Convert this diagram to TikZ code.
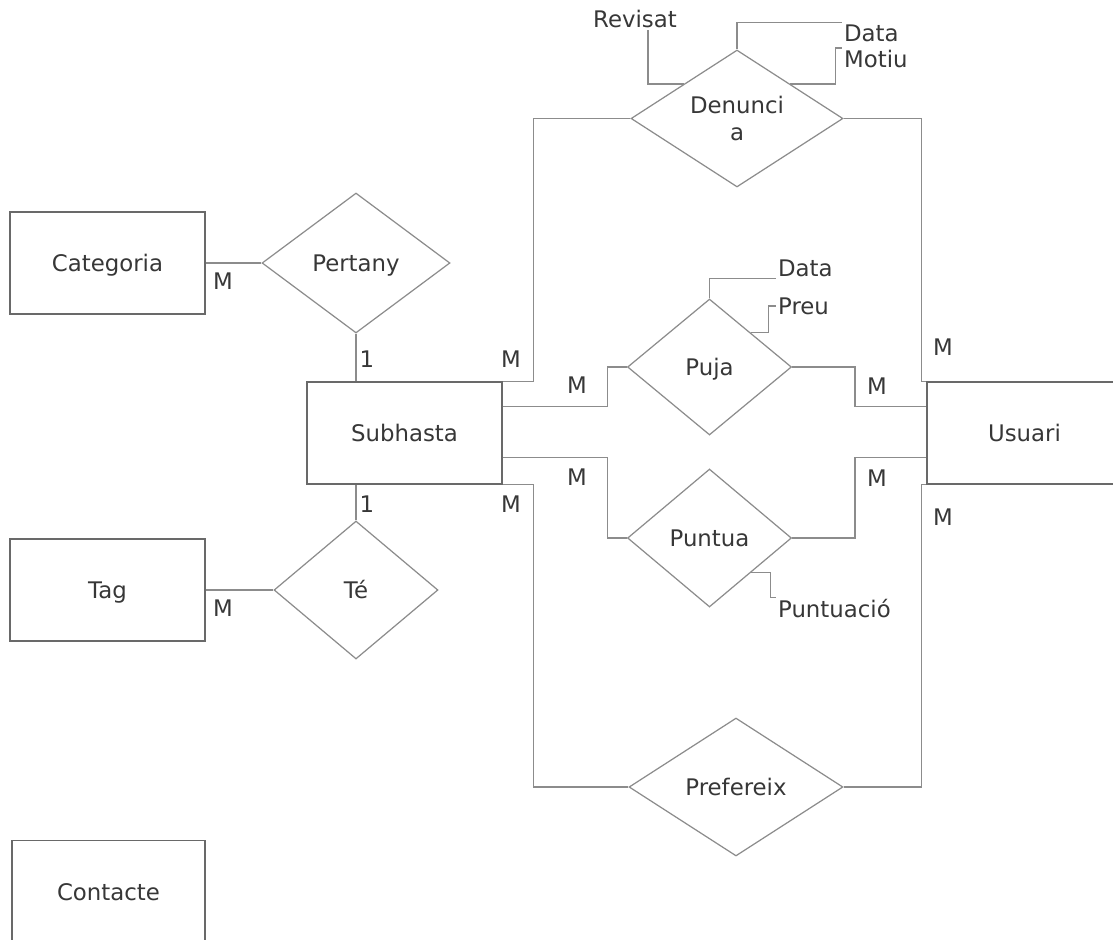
\documentclass[tikz,border=0pt]{standalone}
\usepackage{fontspec}
\setmainfont{DejaVu Sans}
\usetikzlibrary{shapes.geometric}
\definecolor{linegray}{RGB}{140,140,140}
\definecolor{boxgray}{RGB}{105,105,105}
\definecolor{textgray}{RGB}{55,55,55}

\begin{document}
\begin{tikzpicture}[x=0.02cm,y=-0.02cm,font=\fontsize{13}{15.5}\selectfont,text=textgray,
  entity/.style={draw=boxgray,line width=0.7pt,shape=rectangle,minimum width=3.9cm,minimum height=2.04cm,inner sep=0pt,text height=1.15em,text depth=0.17em},
  relation/.style={draw=linegray,line width=0.7pt,shape=diamond,aspect=1.5,inner sep=0pt,text height=1.1em,text depth=0.17em},
  attr/.style={inner sep=1pt},
  card/.style={inner sep=0pt},
  conn/.style={draw=linegray,line width=0.7pt}]

\useasboundingbox (0,0) rectangle (1113,940);

% entities
\node[entity] (categoria) at (107.5,263) {Categoria};
\node[entity] (subhasta) at (404.5,433) {Subhasta};
\node[entity] (tag) at (107.5,590) {Tag};
\node[entity,minimum width=3.86cm] (contacte) at (108.5,891.5) {Contacte};
\node[entity] (usuari) at (1024.5,433) {Usuari};

% relations
\node[relation,minimum width=3.76cm,minimum height=2.8cm] (pertany) at (356,263) {Pertany};
\node[relation,minimum width=3.28cm,minimum height=2.76cm] (te) at (356,590) {Té};
\node[relation,minimum width=4.24cm,minimum height=2.74cm,align=center,text height=,text depth=] (denuncia) at (737,118.5) {Denunci\\a};
\node[relation,minimum width=3.28cm,minimum height=2.72cm] (puja) at (709.5,367) {Puja};
\node[relation,minimum width=3.28cm,minimum height=2.76cm] (puntua) at (709.5,538) {Puntua};
\node[relation,minimum width=4.28cm,minimum height=2.76cm] (prefereix) at (736,787) {Prefereix};

% attributes
\node[attr] (revisat) at (635,19) {Revisat};
\node[attr,anchor=west] (datad) at (842,33) {Data};
\node[attr,anchor=west] (motiu) at (842,59) {Motiu};
\node[attr,anchor=west] (datap) at (776,268) {Data};
\node[attr,anchor=west] (preu) at (776,306) {Preu};
\node[attr,anchor=west] (puntuacio) at (776,609) {Puntuació};

% connectors
\path[conn] (categoria.east) -- (pertany.west);
\path[conn] (pertany.south) -- (pertany.south |- subhasta.north);
\path[conn] (tag.east) -- (te.west);
\path[conn] (te.north) -- (te.north |- subhasta.south);
\path[conn] (denuncia.west) -- ++(-97,0) |- (subhasta.north east);
\path[conn] (denuncia.east) -- ++(78,0) |- (usuari.north west);
\path[conn] (subhasta.15) -- ++(105,0) |- (puja.west);
\path[conn] (puja.east) -- ++(63,0) |- (usuari.165);
\path[conn] (subhasta.-14) -- ++(105,0) |- (puntua.west);
\path[conn] (puntua.east) -- ++(63,0) |- (usuari.194);
\path[conn] (prefereix.west) -- ++(-95,0) |- (subhasta.south east);
\path[conn] (prefereix.east) -- ++(78,0) |- (usuari.south west);

\path[conn] (denuncia.north west) -| ([xshift=7.4pt]revisat.south);
\path[conn] (denuncia.north) |- (datad.north west);
\path[conn] (denuncia.north east) -- ++(45,0) |- (motiu.north west);
\path[conn] (puja.north) |- (datap.south west);
\path[conn] (puja.north east) -- ++(18,0) |- (preu.west);
\path[conn] (puntua.south east) -- ++(20,0) |- (puntuacio.north west);

% cardinalities
\node[card] (cat-m) at (223,281) {M};
\node[card] (per-1) at (367,359) {1};
\node[card] (den-ms) at (511,359) {M};
\node[card] (puj-ms) at (577,385) {M};
\node[card] (puj-mu) at (877,386) {M};
\node[card] (den-mu) at (943,347) {M};
\node[card] (pun-ms) at (577,477) {M};
\node[card] (pun-mu) at (877,478) {M};
\node[card] (pre-ms) at (511,504) {M};
\node[card] (te-1) at (367,504) {1};
\node[card] (pre-mu) at (943,517) {M};
\node[card] (tag-m) at (223,608) {M};

\end{tikzpicture}
\end{document}
